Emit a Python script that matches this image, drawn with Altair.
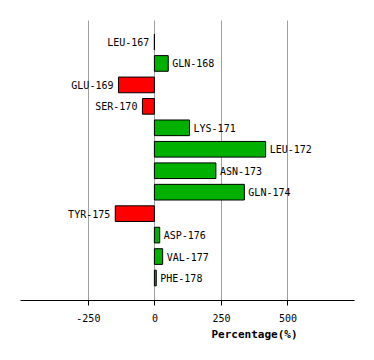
import altair as alt
import pandas as pd

residues = ["LEU-167", "GLN-168", "GLU-169", "SER-170", "LYS-171", "LEU-172",
            "ASN-173", "GLN-174", "TYR-175", "ASP-176", "VAL-177", "PHE-178"]
values = [0, 52, -135, -45, 132, 418, 231, 338, -147, 20, 31, 7]
tick_values = [-250, 0, 250, 500]

df = pd.DataFrame({"residue": residues, "value": values})

FONT = "DejaVu Sans Mono"

y_enc = alt.Y("residue:N", sort=residues, axis=None,
              scale=alt.Scale(paddingInner=0.27, paddingOuter=0.66))
x_enc = alt.X("value:Q",
              scale=alt.Scale(domain=[-505, 750], nice=False, zero=False),
              axis=alt.Axis(values=tick_values, title="Percentage(%)",
                            grid=True, gridColor="#a0a0a0", gridWidth=1,
                            domainColor="black", domainWidth=1,
                            tickColor="black", tickSize=5, tickWidth=1,
                            labelFont=FONT, labelFontSize=10, labelColor="black",
                            labelPadding=8, labelExpr="replace(datum.label, '\u2212', '-')",
                            titleFont=FONT, titleFontSize=11, titleFontWeight="bold",
                            titleColor="black", titleX=234, titleY=37,
                            titleAlign="center", titleBaseline="alphabetic",
                            titleAnchor="start"))

base = alt.Chart(df)

bars = base.mark_bar(stroke="black", strokeWidth=1).encode(
    x=x_enc,
    x2=alt.datum(0),
    y=y_enc,
    color=alt.condition("datum.value > 0", alt.value("#00b000"), alt.value("#ff0000")),
)

pos_text = base.transform_filter("datum.value > 0").mark_text(
    align="left", baseline="middle", dx=4, dy=1, font=FONT, fontSize=10, color="black"
).encode(x="value:Q", y=y_enc, text="residue:N")

neg_text = base.transform_filter("datum.value <= 0").mark_text(
    align="right", baseline="middle", dx=-5, dy=1, font=FONT, fontSize=10, color="black"
).encode(x="value:Q", y=y_enc, text="residue:N")

chart = alt.layer(bars, pos_text, neg_text).properties(
    width=334, height=280,
    background="white",
    autosize=alt.AutoSizeParams(type="none"),
    padding={"left": 12, "top": 12, "right": 12, "bottom": 50},
).configure_view(stroke=None)

chart.save("out.html", embed_options={"renderer": "svg", "actions": False})
